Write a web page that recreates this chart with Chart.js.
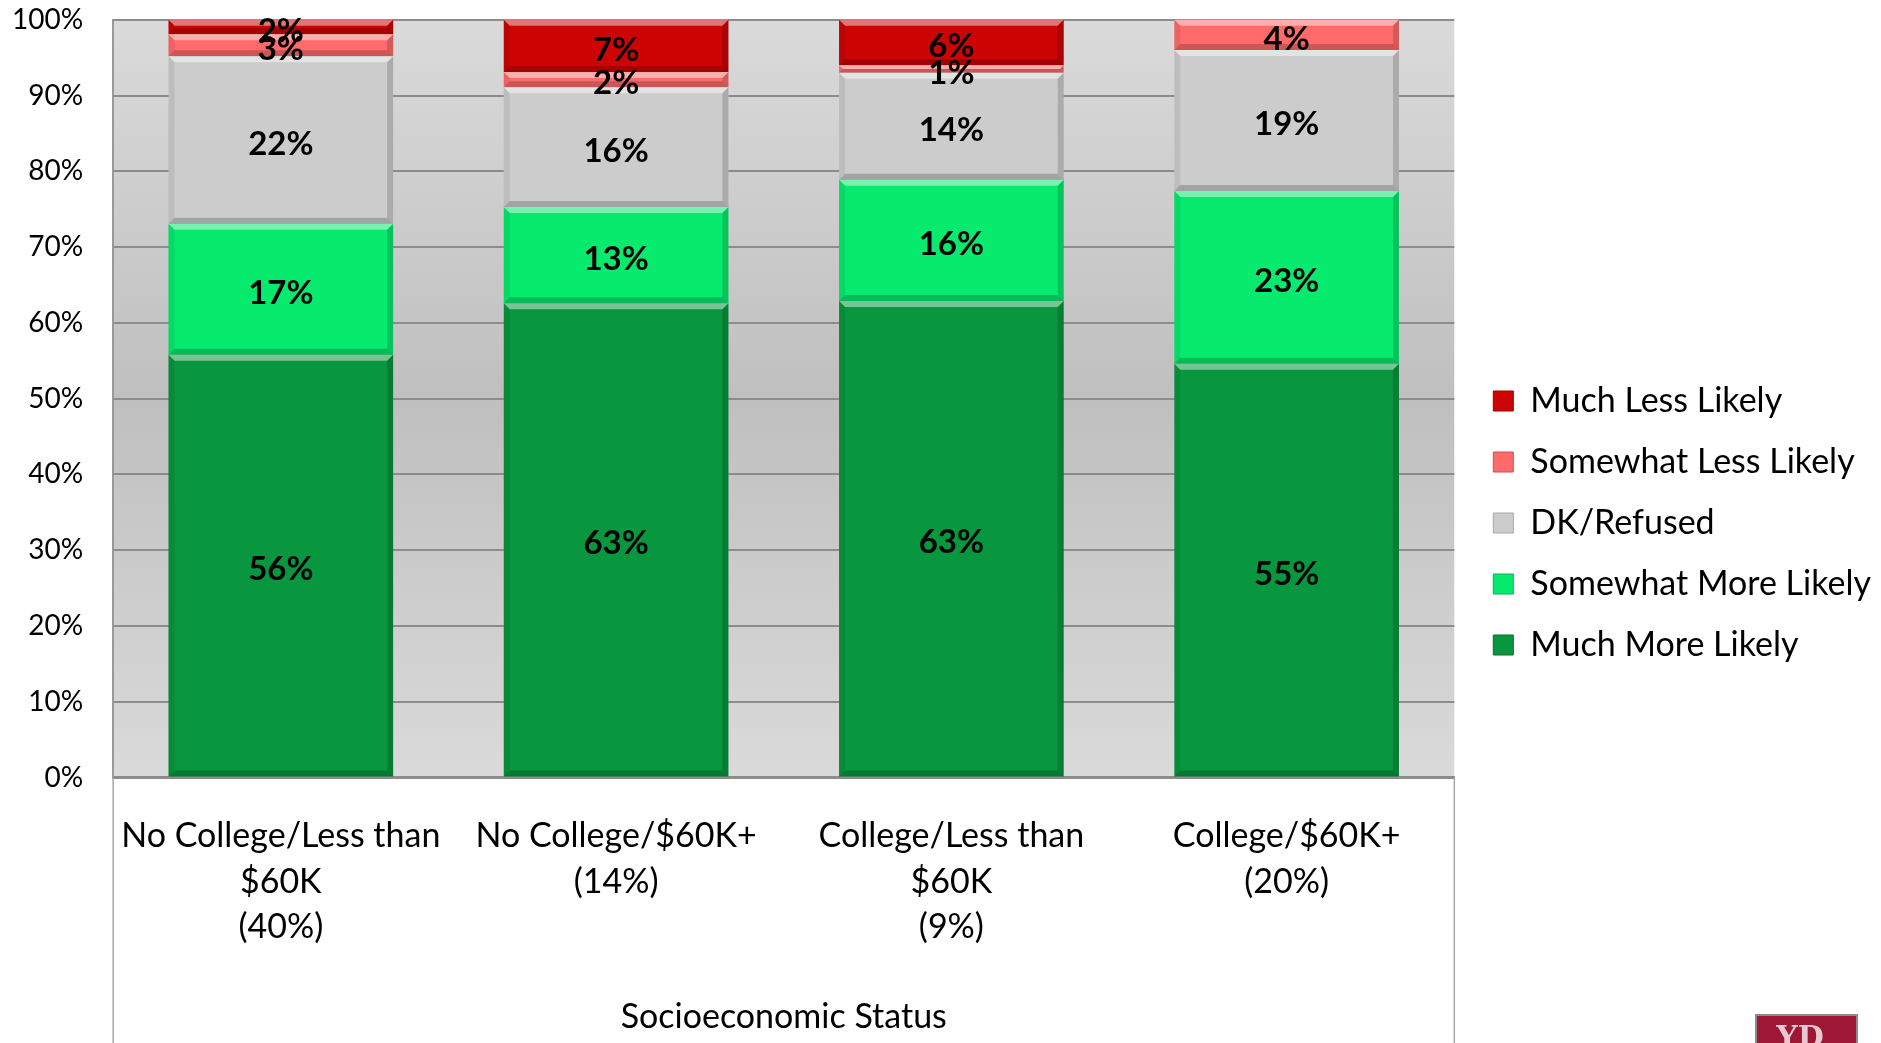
<!DOCTYPE html>
<html>
<head>
<meta charset="utf-8">
<script src="https://cdn.jsdelivr.net/npm/chart.js@4"></script>
<style>
  html, body { margin: 0; padding: 0; background: #fff; }
  #wrap { width: 1881px; height: 1043px; }
</style>
</head>
<body>
<div id="wrap"><canvas id="chart" width="1881" height="1043"></canvas></div>
<script>
// categories (x axis, multi-line)
const categories = [
    ["No College/Less than", "$60K", "(40%)"],
    ["No College/$60K+", "(14%)"],
    ["College/Less than", "$60K", "(9%)"],
    ["College/$60K+", "(20%)"]
];

// series values, bottom of stack first
const muchMore     = [55.8, 62.6, 62.9, 54.6];
const somewhatMore = [17.3, 12.7, 16.0, 22.8];
const dkRefused    = [22.1, 15.8, 14.1, 18.6];
const somewhatLess = [2.9, 2.0, 1.0, 4.0];
const muchLess     = [1.9, 6.9, 6.0, 0];

const yTicks = [0, 10, 20, 30, 40, 50, 60, 70, 80, 90, 100];

const FONT = "Lato, 'Open Sans', sans-serif";

// gray gradient behind the bars
const plotBg = {
    id: "plotBg",
    beforeDraw(chart) {
        const a = chart.chartArea, ctx = chart.ctx;
        const g = ctx.createLinearGradient(0, a.top, 0, a.bottom);
        g.addColorStop(0, "#dadada");
        g.addColorStop(0.5, "#bfbfbf");
        g.addColorStop(1, "#dadada");
        ctx.save();
        ctx.fillStyle = g;
        ctx.fillRect(a.left, a.top, a.right - a.left, a.bottom - a.top);
        ctx.restore();
        // nudge the legend a little away from the plot
        if (chart.legend && !chart.legend._nudged) {
            chart.legend.left += 12;
            chart.legend.right += 12;
            chart.legend._nudged = true;
        }
    }
};

// bevel look on each bar + value labels
const bevelLabels = {
    id: "bevelLabels",
    afterDatasetsDraw(chart) {
        const ctx = chart.ctx;
        ctx.save();
        chart.data.datasets.forEach((ds, di) => {
            const meta = chart.getDatasetMeta(di);
            meta.data.forEach((bar, i) => {
                const v = ds.data[i];
                if (!v) return;
                const l = bar.x - bar.width / 2, r = bar.x + bar.width / 2;
                const t = Math.min(bar.y, bar.base), b = Math.max(bar.y, bar.base);
                const h = b - t;
                const e = Math.min(6, h / 2);
                // top highlight
                ctx.fillStyle = "rgba(255,255,255,0.45)";
                ctx.beginPath();
                ctx.moveTo(l, t); ctx.lineTo(r, t); ctx.lineTo(r - e, t + e); ctx.lineTo(l + e, t + e);
                ctx.closePath(); ctx.fill();
                // right shade
                ctx.fillStyle = "rgba(0,0,0,0.16)";
                ctx.beginPath();
                ctx.moveTo(r, t); ctx.lineTo(r, b); ctx.lineTo(r - e, b - e); ctx.lineTo(r - e, t + e);
                ctx.closePath(); ctx.fill();
                // bottom shade
                ctx.fillStyle = "rgba(0,0,0,0.2)";
                ctx.beginPath();
                ctx.moveTo(l, b); ctx.lineTo(r, b); ctx.lineTo(r - e, b - e); ctx.lineTo(l + e, b - e);
                ctx.closePath(); ctx.fill();
                // left shade
                ctx.fillStyle = "rgba(0,0,0,0.07)";
                ctx.beginPath();
                ctx.moveTo(l, t); ctx.lineTo(l, b); ctx.lineTo(l + e, b - e); ctx.lineTo(l + e, t + e);
                ctx.closePath(); ctx.fill();
            });
        });
        ctx.fillStyle = "#000";
        ctx.font = "bold 33px " + FONT;
        ctx.textAlign = "center";
        ctx.textBaseline = "middle";
        chart.data.datasets.forEach((ds, di) => {
            const meta = chart.getDatasetMeta(di);
            meta.data.forEach((bar, i) => {
                const v = ds.data[i];
                if (v < 0.5) return;
                ctx.fillText(Math.round(v) + "%", bar.x, (bar.y + bar.base) / 2 + 4);
            });
        });
        ctx.restore();
    },
    afterDraw(chart) {
        const a = chart.chartArea, ctx = chart.ctx;
        ctx.save();
        // frame lines under the plot
        ctx.strokeStyle = "#a6a6a6";
        ctx.lineWidth = 1.5;
        ctx.beginPath();
        ctx.moveTo(a.left, a.bottom); ctx.lineTo(a.left, chart.height);
        ctx.moveTo(a.right, a.bottom); ctx.lineTo(a.right, chart.height);
        ctx.stroke();
        // small logo, cut off at the bottom right
        ctx.fillStyle = "#9e1836";
        ctx.fillRect(1756, 1015, 101, 40);
        ctx.strokeStyle = "#8c8c8c";
        ctx.lineWidth = 2;
        ctx.strokeRect(1756, 1015, 101, 40);
        ctx.fillStyle = "#e8c9cf";
        ctx.font = "bold 30px 'DejaVu Serif', serif";
        ctx.textAlign = "center";
        ctx.textBaseline = "top";
        ctx.fillText("YD", 1800, 1024);
        ctx.restore();
    }
};

new Chart(document.getElementById("chart"), {
    type: "bar",
    data: {
        labels: categories,
        datasets: [
            { label: "Much More Likely", data: muchMore, backgroundColor: "#08963f", borderColor: "#06702f" },
            { label: "Somewhat More Likely", data: somewhatMore, backgroundColor: "#06ea6e", borderColor: "#04b456" },
            { label: "DK/Refused", data: dkRefused, backgroundColor: "#cccccc", borderColor: "#a8a8a8" },
            { label: "Somewhat Less Likely", data: somewhatLess, backgroundColor: "#ff6b6b", borderColor: "#d84c4c" },
            { label: "Much Less Likely", data: muchLess, backgroundColor: "#cc0404", borderColor: "#9a0202" }
        ]
    },
    options: {
        responsive: false,
        animation: false,
        layout: { padding: { top: 3, left: 9, right: 12, bottom: 0 } },
        datasets: {
            bar: { categoryPercentage: 1, barPercentage: 0.67, borderWidth: 0 }
        },
        scales: {
            x: {
                stacked: true,
                grid: { display: false, drawTicks: false },
                border: { display: true, color: "#8c8c8c", width: 3 },
                ticks: {
                    color: "#000",
                    padding: 36,
                    maxRotation: 0,
                    font: { family: FONT, size: 34, lineHeight: 1.34 }
                },
                title: {
                    display: true,
                    text: "Socioeconomic Status",
                    color: "#000",
                    font: { family: FONT, size: 34 },
                    padding: { top: 10, bottom: 6 }
                }
            },
            y: {
                stacked: true,
                min: 0,
                max: 100,
                afterBuildTicks: (axis) => { axis.ticks = yTicks.map(v => ({ value: v })); },
                grid: { color: "#8c8c8c", lineWidth: 2, drawTicks: true, tickLength: 27, tickColor: "rgba(0,0,0,0)" },
                border: { display: true, color: "#999999", width: 2 },
                ticks: {
                    color: "#000",
                    padding: 3,
                    font: { family: FONT, size: 28 },
                    callback: (v) => v + "%"
                }
            }
        },
        plugins: {
            legend: {
                position: "right",
                reverse: true,
                labels: {
                    color: "#000",
                    font: { family: FONT, size: 34 },
                    boxWidth: 20,
                    boxHeight: 20,
                    padding: 27,
                    generateLabels: (chart) => chart.data.datasets.map((ds, i) => ({
                        text: ds.label,
                        fillStyle: ds.backgroundColor,
                        strokeStyle: ds.borderColor,
                        lineWidth: 1,
                        fontColor: "#000",
                        datasetIndex: i
                    }))
                }
            },
            tooltip: { enabled: false }
        }
    },
    plugins: [plotBg, bevelLabels]
});
</script>
</body>
</html>
